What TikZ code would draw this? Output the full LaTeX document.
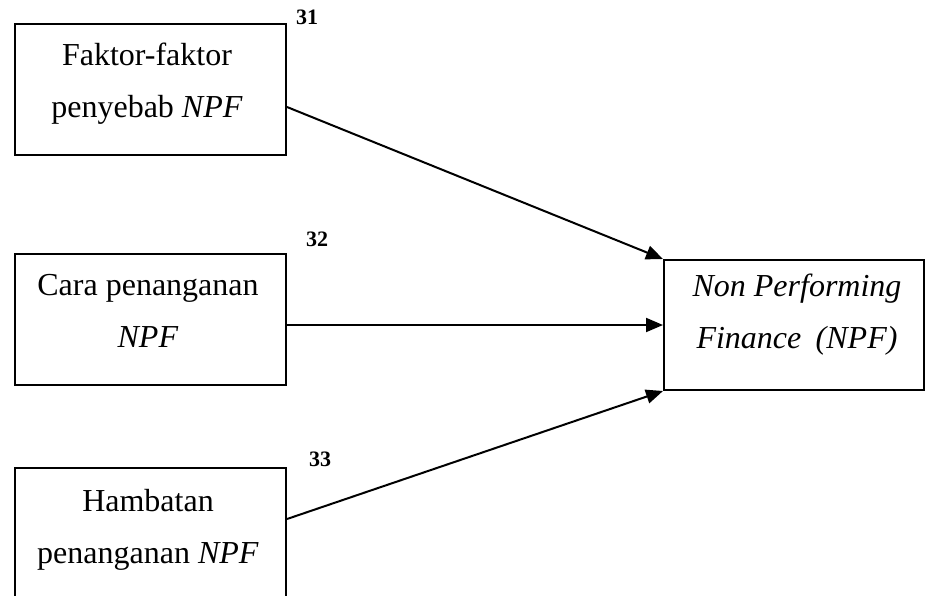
\documentclass[tikz,border=0pt]{standalone}
\usepackage{fontspec}
\setmainfont{Liberation Serif}
\usetikzlibrary{arrows.meta}

\tikzset{
  varbox/.style={draw, line width=2pt, minimum width=271pt, minimum height=131pt, inner sep=0pt},
  vartext/.style={align=center, inner sep=0pt, font=\fontsize{32}{52}\selectfont},
  code/.style={inner sep=0pt, font=\fontsize{22}{26}\selectfont\bfseries},
  link/.style={line width=2pt, -{Triangle[length=17pt,width=14pt]}}
}

\begin{document}
\begin{tikzpicture}[x=1pt, y=-1pt]
    \useasboundingbox (0,0) rectangle (927,595);
    % variable boxes
    \node[varbox] (b1) at (150.5,89) {};
    \node[varbox] (b2) at (150.5,319.5) {};
    \node[varbox] (b3) at (150.5,533.5) {};
    \node[varbox, minimum width=260pt, minimum height=130pt] (npf) at (794,325) {};
    \node[vartext] (t1) at (147,81.3) {Faktor-faktor\strut\\penyebab \textit{NPF}\strut};
    \node[vartext] (t2) at (148,310.6) {Cara penanganan\strut\\\textit{NPF}\strut};
    \node[vartext] (t3) at (148,527.3) {Hambatan\strut\\penanganan \textit{NPF}\strut};
    \node[vartext] (t4) at (797,311.6) {\textit{Non Performing}\strut\\\textit{Finance\hspace{0.2em} (NPF)}\strut};
    % codes
    \node[code] (c1) at (307,17.5) {31};
    \node[code] (c2) at (317,239) {32};
    \node[code] (c3) at (320,459) {33};
    % arrows
    \draw[link] ([yshift=-18pt]b1.east) -- (npf.north west);
    \draw[link] (b2.east |- npf.west) -- (npf.west);
    \draw[link] ([yshift=14.5pt]b3.east) -- (npf.south west);
\end{tikzpicture}
\end{document}
